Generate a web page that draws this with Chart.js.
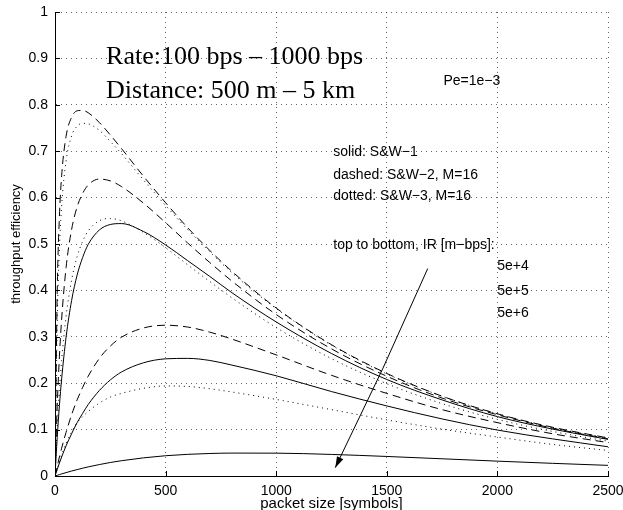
<!DOCTYPE html>
<html>
<head>
<meta charset="utf-8">
<script src="https://cdn.jsdelivr.net/npm/chart.js@4.4.1/dist/chart.umd.min.js"></script>
<style>
  html, body { margin: 0; padding: 0; background: #fff; }
  #wrap { width: 623px; height: 510px; }
</style>
</head>
<body>
<div id="wrap"><canvas id="effChart" width="623" height="510"></canvas></div>
<script>
// packet size [symbols]
var packetSize = [0, 10, 20, 30, 50, 75, 100, 125, 150, 200, 250, 300, 400, 500, 600, 700, 800, 1000, 1250, 1500, 1750, 2000, 2250, 2500];

// throughput efficiency, IR = 5e+4, 5e+5, 5e+6
var solid1 = [0, 0.083, 0.152, 0.209, 0.299, 0.378, 0.433, 0.471, 0.499, 0.530, 0.542, 0.544, 0.527, 0.498, 0.464, 0.430, 0.395, 0.332, 0.264, 0.208, 0.164, 0.128, 0.101, 0.079];
var solid2 = [0, 0.014, 0.028, 0.041, 0.065, 0.091, 0.115, 0.135, 0.154, 0.184, 0.207, 0.224, 0.244, 0.2525, 0.2535, 0.249, 0.239, 0.216, 0.182, 0.151, 0.123, 0.099, 0.080, 0.063];
var solid3 = [0, 0.0015, 0.003, 0.0045, 0.0073, 0.0107, 0.0138, 0.0168, 0.0196, 0.0246, 0.0291, 0.0329, 0.0391, 0.0437, 0.0467, 0.0485, 0.0494, 0.0492, 0.0465, 0.0421, 0.0371, 0.032, 0.0273, 0.0229];
var dashed1 = [0, 0.396, 0.560, 0.647, 0.732, 0.773, 0.787, 0.788, 0.783, 0.762, 0.735, 0.706, 0.646, 0.589, 0.535, 0.486, 0.441, 0.362, 0.283, 0.221, 0.172, 0.134, 0.105, 0.082];
var dashed2 = [0, 0.150, 0.258, 0.338, 0.449, 0.531, 0.580, 0.609, 0.627, 0.640, 0.636, 0.624, 0.588, 0.546, 0.502, 0.460, 0.420, 0.348, 0.274, 0.215, 0.168, 0.132, 0.103, 0.080];
var dashed3 = [0, 0.021, 0.041, 0.060, 0.094, 0.132, 0.164, 0.191, 0.215, 0.253, 0.280, 0.299, 0.319, 0.325, 0.321, 0.310, 0.295, 0.261, 0.217, 0.178, 0.143, 0.115, 0.091, 0.072];
var dotted1 = [0, 0.330, 0.490, 0.582, 0.679, 0.733, 0.754, 0.760, 0.759, 0.745, 0.721, 0.695, 0.638, 0.583, 0.531, 0.483, 0.438, 0.361, 0.282, 0.220, 0.172, 0.134, 0.104, 0.082];
var dotted2 = [0, 0.103, 0.184, 0.249, 0.344, 0.422, 0.473, 0.506, 0.528, 0.550, 0.555, 0.550, 0.525, 0.492, 0.455, 0.419, 0.384, 0.320, 0.253, 0.199, 0.156, 0.122, 0.096, 0.075];
var dotted3 = [0, 0.015, 0.030, 0.045, 0.070, 0.095, 0.115, 0.128, 0.139, 0.157, 0.170, 0.178, 0.189, 0.194, 0.193, 0.188, 0.181, 0.165, 0.143, 0.121, 0.101, 0.084, 0.068, 0.055];

var xTicks = [0, 500, 1000, 1500, 2000, 2500];
var yTicks = [0, 0.1, 0.2, 0.3, 0.4, 0.5, 0.6, 0.7, 0.8, 0.9, 1];

function series(label, values, dash) {
  return {
    label: label,
    data: packetSize.map(function (x, i) { return { x: x, y: values[i] }; }),
    borderColor: "#000",
    borderWidth: 1,
    borderDash: dash,
    pointRadius: 0,
    cubicInterpolationMode: "monotone",
    fill: false
  };
}

// text, arrow and inward ticks drawn on top of the plot
var overlay = {
  id: "overlay",
  afterDraw: function (chart) {
    var ctx = chart.ctx;
    var xs = chart.scales.x, ys = chart.scales.y, area = chart.chartArea;
    ctx.save();

    ctx.strokeStyle = "#000";
    ctx.lineWidth = 1;
    ctx.beginPath();
    xTicks.forEach(function (v) {
      var px = Math.round(xs.getPixelForValue(v)) + 0.5;
      ctx.moveTo(px, area.bottom);
      ctx.lineTo(px, area.bottom - 5);
    });
    yTicks.forEach(function (v) {
      var py = Math.round(ys.getPixelForValue(v)) + 0.5;
      ctx.moveTo(area.left, py);
      ctx.lineTo(area.left + 5, py);
    });
    ctx.stroke();

    ctx.fillStyle = "#000";
    ctx.textAlign = "left";
    ctx.textBaseline = "alphabetic";
    ctx.font = "26px 'Liberation Serif'";
    ctx.fillText("Rate:100 bps \u2013 1000 bps", xs.getPixelForValue(231), ys.getPixelForValue(0.887));
    ctx.fillText("Distance: 500 m \u2013 5 km", xs.getPixelForValue(231), ys.getPixelForValue(0.815));

    ctx.textBaseline = "middle";
    ctx.font = "14px 'Liberation Sans'";
    ctx.fillText("Pe=1e\u22123", xs.getPixelForValue(1756), ys.getPixelForValue(0.85));
    ctx.fillText("solid: S&W\u22121", xs.getPixelForValue(1258), ys.getPixelForValue(0.699));
    ctx.fillText("dashed: S&W\u22122, M=16", xs.getPixelForValue(1258), ys.getPixelForValue(0.649));
    ctx.fillText("dotted: S&W\u22123, M=16", xs.getPixelForValue(1258), ys.getPixelForValue(0.604));
    ctx.fillText("top to bottom, IR [m\u2212bps]:", xs.getPixelForValue(1258), ys.getPixelForValue(0.498));
    ctx.fillText("5e+4", xs.getPixelForValue(1999), ys.getPixelForValue(0.4525));
    ctx.fillText("5e+5", xs.getPixelForValue(1999), ys.getPixelForValue(0.399));
    ctx.fillText("5e+6", xs.getPixelForValue(1999), ys.getPixelForValue(0.350));

    // arrow: top to bottom
    var x0 = xs.getPixelForValue(1685), y0 = ys.getPixelForValue(0.447);
    var x1 = xs.getPixelForValue(1267), y1 = ys.getPixelForValue(0.018);
    var cx = (x0 + x1) / 2 + 3, cy = (y0 + y1) / 2;
    ctx.beginPath();
    ctx.moveTo(x0, y0);
    ctx.quadraticCurveTo(cx, cy, x1, y1);
    ctx.stroke();
    var ang = Math.atan2(y1 - cy, x1 - cx);
    var len = 11, half = 3.5;
    ctx.beginPath();
    ctx.moveTo(x1, y1);
    ctx.lineTo(x1 - len * Math.cos(ang) + half * Math.sin(ang), y1 - len * Math.sin(ang) - half * Math.cos(ang));
    ctx.lineTo(x1 - len * Math.cos(ang) - half * Math.sin(ang), y1 - len * Math.sin(ang) + half * Math.cos(ang));
    ctx.closePath();
    ctx.fill();

    ctx.restore();
  }
};

var ctx = document.getElementById("effChart").getContext("2d");
var effChart = new Chart(ctx, {
  type: "line",
  data: {
    datasets: [
      series("S&W-1, 5e+4", solid1, []),
      series("S&W-1, 5e+5", solid2, []),
      series("S&W-1, 5e+6", solid3, []),
      series("S&W-2, 5e+4", dashed1, [8, 5]),
      series("S&W-2, 5e+5", dashed2, [8, 5]),
      series("S&W-2, 5e+6", dashed3, [8, 5]),
      series("S&W-3, 5e+4", dotted1, [1, 4]),
      series("S&W-3, 5e+5", dotted2, [1, 4]),
      series("S&W-3, 5e+6", dotted3, [1, 4])
    ]
  },
  options: {
    responsive: false,
    animation: false,
    devicePixelRatio: 1,
    layout: { padding: { top: 12, right: 15, bottom: 0, left: 0 } },
    plugins: {
      legend: { display: false },
      tooltip: { enabled: false }
    },
    scales: {
      x: {
        type: "linear",
        min: 0,
        max: 2500,
        afterFit: function (scale) {
          scale.height = 34;
          scale.paddingLeft = 0;
          scale.paddingRight = 0;
        },
        ticks: {
          stepSize: 500,
          padding: 7,
          color: "#000",
          font: { family: "'Liberation Sans'", size: 14 },
          callback: function (v) { return String(v); }
        },
        grid: { color: "rgba(0,0,0,0.6)", drawTicks: false },
        border: { display: true, color: "#000", width: 1, dash: [1, 4] },
        title: {
          display: true,
          text: "packet size [symbols]",
          color: "#000",
          font: { family: "'Liberation Sans'", size: 15 },
          padding: { top: 0, bottom: -3 }
        }
      },
      y: {
        min: 0,
        max: 1,
        afterFit: function (scale) {
          scale.width = 55;
          scale.paddingTop = 0;
          scale.paddingBottom = 0;
        },
        ticks: {
          stepSize: 0.1,
          padding: 7,
          color: "#000",
          font: { family: "'Liberation Sans'", size: 14 },
          callback: function (v) { return String(Math.round(v * 10) / 10); }
        },
        grid: { color: "rgba(0,0,0,0.6)", drawTicks: false },
        border: { display: true, color: "#000", width: 1, dash: [1, 4] },
        title: {
          display: true,
          text: "throughput efficiency",
          color: "#000",
          font: { family: "'Liberation Sans'", size: 13 },
          padding: { top: 9, bottom: 0 }
        }
      }
    }
  },
  plugins: [overlay]
});
</script>
</body>
</html>
